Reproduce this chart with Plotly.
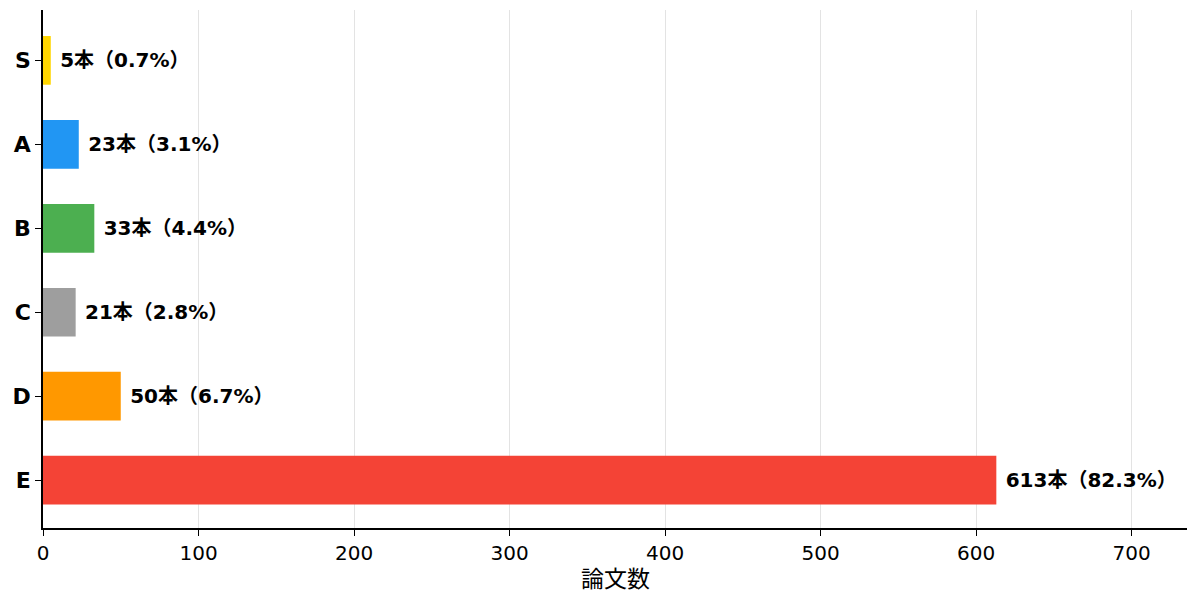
import plotly.graph_objects as go

grades = ["S", "A", "B", "C", "D", "E"]
counts = [5, 23, 33, 21, 50, 613]
shares = [0.7, 3.1, 4.4, 2.8, 6.7, 82.3]
colors = ["#FFD600", "#2196F3", "#4CAF50", "#9E9E9E", "#FF9800", "#F44336"]
x_ticks = [0, 100, 200, 300, 400, 500, 600, 700]

labels = [f"\u00a0<b>{n}本（{p}%）</b>" for n, p in zip(counts, shares)]

fig = go.Figure(go.Bar(
    x=counts,
    y=grades,
    orientation="h",
    marker=dict(color=colors, line=dict(width=0)),
    width=0.58,
    text=labels,
    textposition="outside",
    textfont=dict(family="DejaVu Sans, Noto Sans CJK JP", size=20, color="black"),
    cliponaxis=False,
))

# page body has an 8px margin, so the figure is a bit smaller than the window
fig.update_layout(
    width=1192, height=596,
    margin=dict(l=35, r=13, t=2, b=76),
    plot_bgcolor="white",
    paper_bgcolor="white",
    showlegend=False,
    font=dict(family="DejaVu Sans", color="black"),
)
# x axis title as an annotation so it can sit close to the tick labels
fig.add_annotation(
    text="論文数", xref="paper", yref="paper", x=0.5, y=0,
    yshift=-49, yanchor="middle", showarrow=False,
    font=dict(family="Noto Sans CJK JP", size=23, color="black"),
)
fig.update_xaxes(
    range=[0, 735.6],
    tickvals=x_ticks,
    automargin=False,
    showgrid=True, gridcolor="#e3e3e3", gridwidth=1,
    showline=True, linecolor="black", linewidth=1.5,
    ticks="outside", ticklen=6, tickcolor="black",
    tickfont=dict(size=20),
    zeroline=False,
    layer="above traces",
)
fig.update_yaxes(
    categoryorder="array", categoryarray=grades[::-1],
    range=[-0.57, 5.6],
    automargin=False,
    showgrid=False,
    showline=True, linecolor="black", linewidth=1.5,
    ticks="outside", ticklen=6, tickcolor="black",
    tickfont=dict(size=22, family="DejaVu Sans"),
    tickprefix="<b>", ticksuffix="</b>",
)

fig.write_html("out.html")
